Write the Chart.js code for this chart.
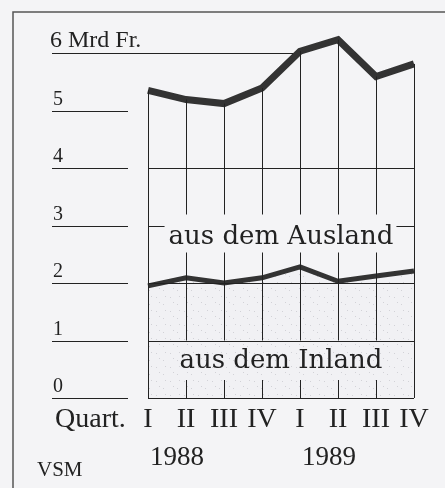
<!DOCTYPE html>
<html>
<head>
<meta charset="utf-8">
<script src="https://cdn.jsdelivr.net/npm/chart.js@4.4.1/dist/chart.umd.min.js"></script>
<style>
  html, body { margin: 0; padding: 0; background: #f4f4f6; }
  canvas { display: block; }
</style>
</head>
<body>
<canvas id="chart" width="445" height="488"></canvas>
<script>
// Quartale 1988-1989, Werte in Mrd Fr.
const quarters = ['I', 'II', 'III', 'IV', 'I', 'II', 'III', 'IV'];
const years = ['1988', '1989'];
const yearStart = [0, 4];            // index des ersten Quartals je Jahr
const totalValues = [5.35, 5.19, 5.12, 5.39, 6.03, 6.23, 5.59, 5.81];
const inlandValues = [1.95, 2.09, 2.00, 2.09, 2.28, 2.03, 2.12, 2.21];
const yTicks = [0, 1, 2, 3, 4, 5, 6];
const yUnit = 'Mrd Fr.';
const labelAusland = 'aus dem Ausland';
const labelInland = 'aus dem Inland';

const bg = '#f4f4f6';
const ink = '#222';

// Punktraster fuer die Inland-Flaeche
function makeStipple() {
    const c = document.createElement('canvas');
    c.width = 14; c.height = 14;
    const g = c.getContext('2d');
    g.fillStyle = '#f1f1f4';
    g.fillRect(0, 0, 14, 14);
    g.fillStyle = '#d2d2d7';
    g.fillRect(2, 3, 1, 1);
    g.fillRect(9, 10, 1, 1);
    g.fillRect(11, 2, 1, 1);
    g.fillRect(5, 8, 1, 1);
    return g.createPattern(c, 'repeat');
}

const decor = {
    id: 'decor',
    beforeDraw(chart) {
        const ctx = chart.ctx;
        ctx.save();
        ctx.fillStyle = bg;
        ctx.fillRect(0, 0, chart.width, chart.height);
        // Rahmen
        ctx.strokeStyle = '#555';
        ctx.lineWidth = 1.5;
        ctx.beginPath();
        ctx.moveTo(13, chart.height);
        ctx.lineTo(13, 12);
        ctx.lineTo(chart.width, 12);
        ctx.stroke();
        ctx.restore();
    },
    beforeDatasetsDraw(chart) {
        const ctx = chart.ctx;
        const x = chart.scales.x, y = chart.scales.y;
        const topTick = yTicks[yTicks.length - 1];
        // oberste Linie endet dort, wo die Kurve sie zum ersten Mal erreicht
        let cross = totalValues.findIndex(function (v) { return v >= topTick; });
        if (cross < 0) cross = totalValues.length - 1;
        ctx.save();
        ctx.strokeStyle = ink;
        ctx.lineWidth = 1;
        ctx.fillStyle = ink;
        ctx.textBaseline = 'alphabetic';
        yTicks.forEach(function (v) {
            const py = Math.round(y.getPixelForValue(v)) + 0.5;
            ctx.beginPath();
            ctx.moveTo(52, py);
            ctx.lineTo(v === topTick ? x.getPixelForValue(cross) : 128, py);
            ctx.stroke();
            ctx.font = v === topTick ? '24px "Liberation Serif"' : '20px "Liberation Serif"';
            ctx.fillText(v === topTick ? v + ' ' + yUnit : String(v), v === topTick ? 50 : 53, py - 7);
        });
        ctx.restore();
    },
    afterDatasetsDraw(chart) {
        const ctx = chart.ctx;
        const x = chart.scales.x, y = chart.scales.y;
        const left = x.getPixelForValue(0), right = x.getPixelForValue(quarters.length - 1);
        const y0 = y.getPixelForValue(0), y1 = y.getPixelForValue(1), y3 = y.getPixelForValue(3);
        const cx = (left + right) / 2;
        ctx.save();
        ctx.strokeStyle = ink;
        ctx.fillStyle = ink;
        ctx.lineWidth = 1;

        function line(ax, ay, bx, by) {
            ctx.beginPath();
            ctx.moveTo(ax, ay);
            ctx.lineTo(bx, by);
            ctx.stroke();
        }

        // Beschriftung Ausland und Luecke in der 3er-Linie
        ctx.font = '26px "DejaVu Serif"';
        const wA = ctx.measureText(labelAusland).width;
        [0, 1, 2, 4].forEach(function (v) {
            const py = Math.round(y.getPixelForValue(v)) + 0.5;
            line(left, py, right, py);
        });
        const p3 = Math.round(y3) + 0.5;
        line(left, p3, cx - wA / 2 - 4, p3);
        line(cx + wA / 2 + 3, p3, right, p3);

        // Senkrechte
        quarters.forEach(function (q, i) {
            const px = Math.round(x.getPixelForValue(i)) + 0.5;
            const top = y.getPixelForValue(totalValues[i]);
            if (i === 0 || i === quarters.length - 1) {
                line(px, top, px, y0);
            } else {
                line(px, top, px, y3 - 11);
                line(px, y3 + 27, px, y1);
                line(px, y0 - 18, px, y0);
            }
        });

        ctx.textAlign = 'center';
        ctx.fillText(labelAusland, cx, y3 + 18);
        ctx.fillText(labelInland, cx, y0 - 30);

        // x-Achse
        ctx.font = '28px "Liberation Serif"';
        quarters.forEach(function (q, i) {
            ctx.fillText(q, x.getPixelForValue(i), y0 + 29);
        });
        ctx.textAlign = 'left';
        ctx.fillText('Quart.', 55, y0 + 29);
        ctx.font = '27px "Liberation Serif"';
        years.forEach(function (yr, k) {
            ctx.fillText(yr, x.getPixelForValue(yearStart[k]) + 2, y0 + 67);
        });
        ctx.font = '21px "Liberation Serif"';
        ctx.fillText('VSM', 37, y0 + 78);
        ctx.restore();
    }
};

const ctx = document.getElementById('chart').getContext('2d');
new Chart(ctx, {
    type: 'line',
    data: {
        labels: quarters.map(function (q, i) { return q + ' ' + years[i < 4 ? 0 : 1]; }),
        datasets: [
            {
                label: labelInland,
                data: inlandValues,
                borderColor: '#333',
                borderWidth: 5,
                backgroundColor: makeStipple(),
                fill: 'origin',
                tension: 0,
                pointRadius: 0,
            },
            {
                label: labelAusland,
                data: totalValues,
                borderColor: '#333',
                borderWidth: 7,
                backgroundColor: bg,
                fill: 'origin',
                tension: 0,
                pointRadius: 0,
            }
        ]
    },
    options: {
        responsive: false,
        animation: false,
        layout: {
            padding: { left: 148, right: 31, top: 30, bottom: 90 }
        },
        plugins: {
            legend: { display: false },
            tooltip: { enabled: false },
        },
        scales: {
            x: { display: false, offset: false },
            y: { display: false, min: 0, max: 6.4 }
        }
    },
    plugins: [decor]
});
</script>
</body>
</html>
